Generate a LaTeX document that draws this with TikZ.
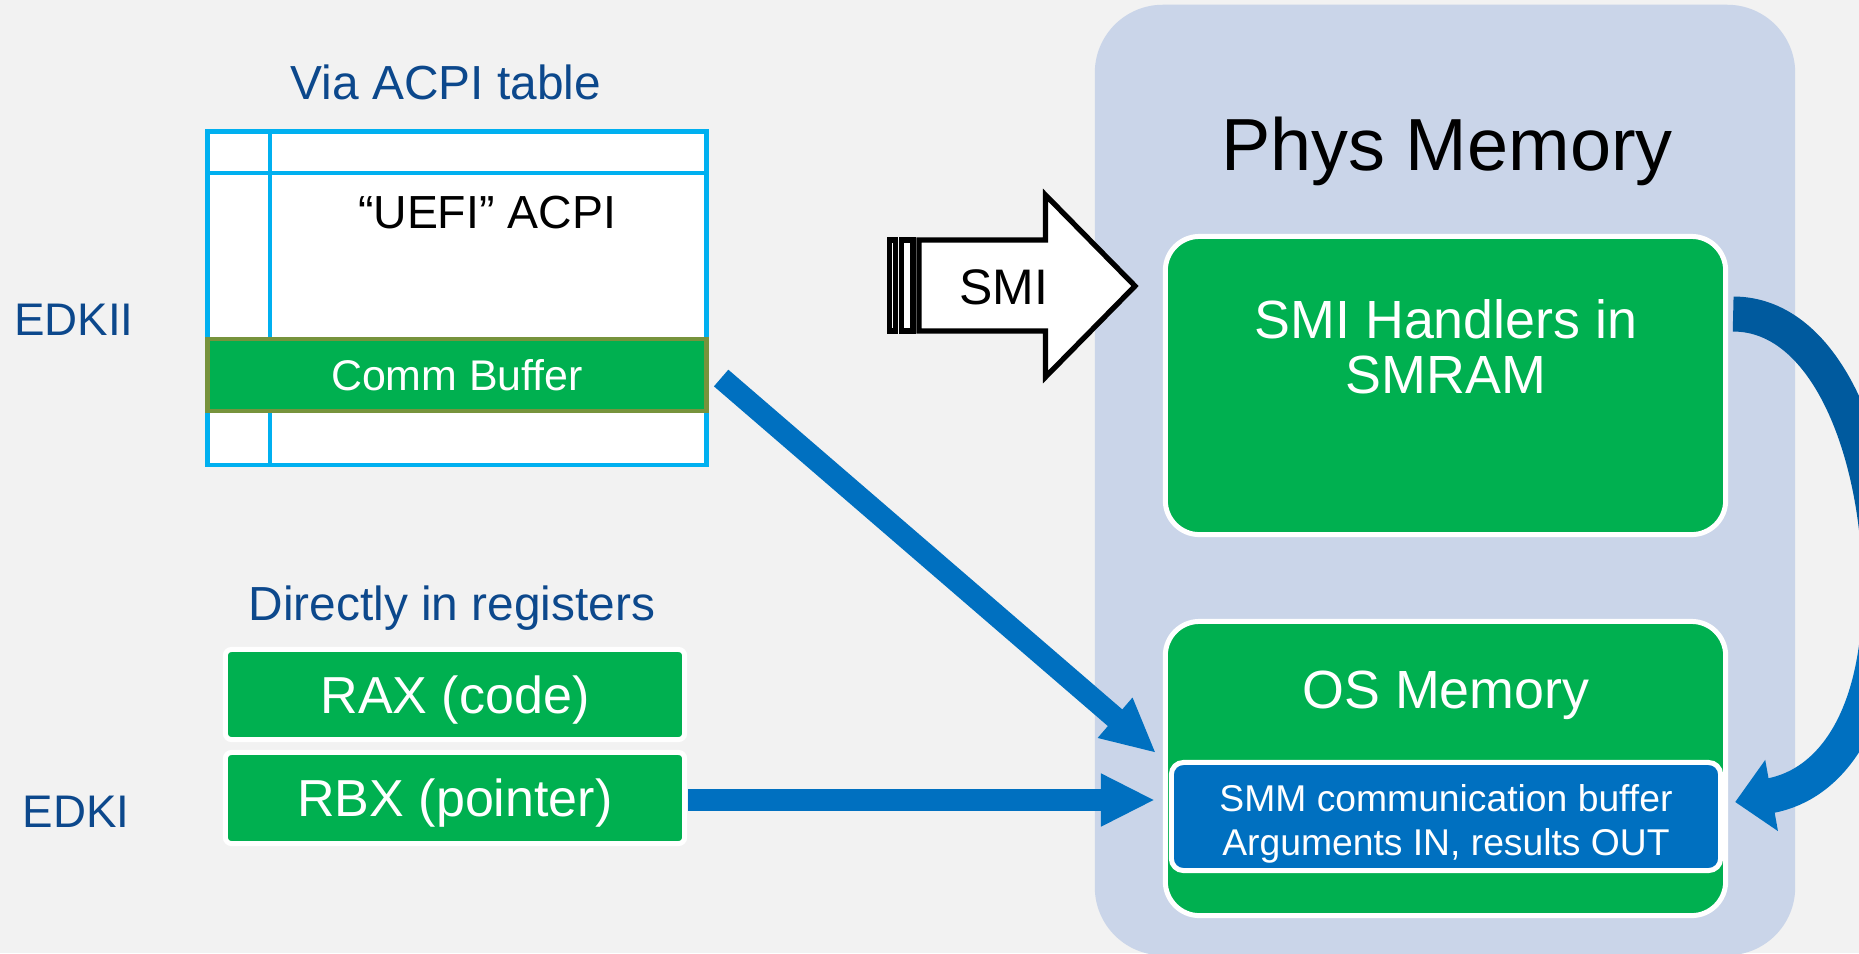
\documentclass[tikz,border=0pt]{standalone}
\usepackage{fontspec}
\setmainfont{Liberation Sans}
\usetikzlibrary{arrows.meta}

\definecolor{fond}{RGB}{242,242,242}
\definecolor{panneau}{RGB}{202,213,233}
\definecolor{vert}{RGB}{0,176,80}
\definecolor{olive}{RGB}{119,147,60}
\definecolor{ciel}{RGB}{0,176,240}
\definecolor{bleu}{RGB}{0,112,192}
\definecolor{bleufonce}{RGB}{0,90,158}
\definecolor{bleutxt}{RGB}{12,72,140}

\tikzset{
  boite/.style={fill=vert, draw=white, line width=1.42pt, inner sep=0pt, outer sep=0pt},
  etiq/.style={text=bleutxt, inner sep=0pt, anchor=base, font=\fontsize{13.6}{16}\selectfont},
  blanc/.style={text=white, inner sep=0pt},
  fleche/.style={draw=bleu, line width=0.22cm, -{Triangle[length=0.54cm,width=0.49cm]}},
  courbe/.style={line width=0.35cm},
}

\begin{document}
\begin{tikzpicture}[x=0.01cm, y=-0.01cm]
% cadre de la figure, fond gris
\useasboundingbox (0,0) rectangle (1859,953);
\fill[fond] (0,0) rectangle (1859,953);

% la memoire physique (grand fond bleute)
\node[fill=panneau, rounded corners=0.68cm, minimum width=7cm, minimum height=9.5cm, inner sep=0pt] (mem) at (1445,480) {};
\node[anchor=base, inner sep=0pt, font=\fontsize{21}{25}\selectfont] (memt) at (1447,170) {Phys Memory};

% les gestionnaires SMI en SMRAM
\node[boite, rounded corners=0.34cm, minimum width=5.6cm, minimum height=2.98cm] (smi) at (1445.5,385.5) {};
\node[blanc, anchor=north, align=center, font=\fontsize{15.3}{15.65}\selectfont] (smit) at (1446,298.5) {SMI Handlers in\\SMRAM};

% la memoire de l'OS, avec le tampon de communication
\node[boite, rounded corners=0.34cm, minimum width=5.6cm, minimum height=2.94cm] (os) at (1445.5,768.5) {};
\node[blanc, anchor=base, font=\fontsize{15.3}{18}\selectfont] (ost) at (1446,708) {OS Memory};
\node[boite, fill=bleu, rounded corners=0.12cm, minimum width=5.49cm, minimum height=1.08cm] (buf) at (1446,816.5) {};
\node[blanc, anchor=north, align=center, font=\fontsize{10.6}{12.5}\selectfont] (buft) at (1446,784) {SMM communication buffer\\Arguments IN, results OUT};

% la table ACPI (EDKII)
\node[etiq] (via) at (446,99) {Via ACPI table};
\node[fill=white, draw=ciel, line width=1.28pt, minimum width=4.99cm, minimum height=3.335cm, inner sep=0pt, outer sep=0pt] (acpi) at (457,298.25) {};
\draw[ciel, line width=1.28pt] (270,131.5) -- (270,465);
\draw[ciel, line width=1.28pt] (207.5,173) -- (706.5,173);
\node[anchor=base, inner sep=0pt, font=\fontsize{13.2}{16}\selectfont] (uefi) at (487,228) {“UEFI” ACPI};
% le Comm Buffer recouvre le bas de la table
\node[fill=vert, draw=olive, line width=1.28pt, minimum width=4.99cm, minimum height=0.72cm, inner sep=0pt, outer sep=0pt, text=white, font=\fontsize{12.2}{14}\selectfont] (comm) at (457,375) {Comm Buffer};

% les registres (EDKI)
\node[etiq] (dir) at (452,620) {Directly in registers};
\node[boite, rounded corners=0.06cm, minimum width=4.59cm, minimum height=0.9cm, text=white, font=\fontsize{14.8}{17}\selectfont, text height=10.6pt, text depth=0pt] (rax) at (455,694.5) {RAX (code)};
\node[boite, rounded corners=0.06cm, minimum width=4.59cm, minimum height=0.91cm, text=white, font=\fontsize{14.8}{17}\selectfont, text height=10.6pt, text depth=0pt] (rbx) at (455,798) {RBX (pointer)};

% les noms a gauche
\node[etiq, font=\fontsize{13}{16}\selectfont] (edk2) at (74,335) {EDKII};
\node[etiq, font=\fontsize{13}{16}\selectfont] (edk1) at (76,827.5) {EDKI};

% la grosse fleche SMI, a deux rayures
\begin{scope}[fill=white, draw=black, line width=1.5pt]
\filldraw (889.5,240) rectangle (895.4,331);
\filldraw (901.3,240) rectangle (913,331);
\filldraw (918.9,240) -- (1045.5,240) -- (1045.5,195) -- (1135,286) -- (1045.5,377) -- (1045.5,331) -- (918.9,331) -- cycle;
\end{scope}
\node[anchor=base, inner sep=0pt, font=\fontsize{14.2}{17}\selectfont] (smix) at (1004,304) {SMI};

% les fleches vers la memoire de l'OS
\coordinate (pointeA) at (1156,753);
\coordinate (pointeB) at (1155,800);
\draw[fleche] ([shift={(14.5,3)}]comm.east) -- (pointeA);
\draw[fleche] ([shift={(3.5,2)}]rbx.east) -- (pointeB);

% la fleche courbe : SMRAM vers le tampon
\coordinate (depart) at ([shift={(7.5,-71.5)}]smi.east);
\coordinate (droite) at (1880,590);
\coordinate (arrivee) at ([shift={(14.5,-14.5)}]buf.east);
\draw[courbe, bleufonce] (depart) .. controls +(95,0) and +(0,-135) .. (droite);
\draw[courbe, bleu, -{Triangle[length=0.37cm,width=0.70cm]}] (droite) .. controls +(0,130) and +(95,-17) .. (arrivee);
\end{tikzpicture}
\end{document}
